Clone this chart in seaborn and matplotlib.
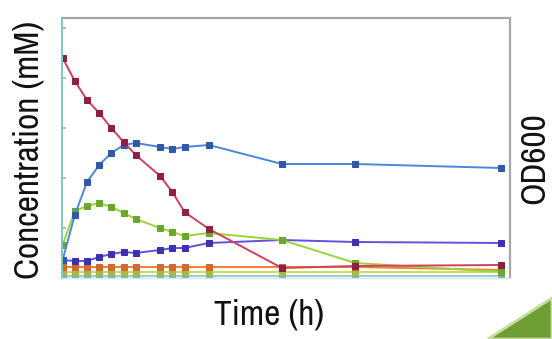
import matplotlib
matplotlib.use("Agg")
import matplotlib.pyplot as plt
from matplotlib import font_manager
from matplotlib.patches import Polygon
import numpy as np
import pandas as pd
import seaborn as sns

# Sampling times (h)
time_h = [0, 1, 2, 3, 4, 5, 6, 8, 9, 10, 12, 18, 24, 36]

# Concentrations (mM)
substrate = [22.0, 19.7, 17.8, 16.5, 15.0, 13.6, 12.3, 10.2, 8.6, 6.6, 4.9, 1.0, 1.2, 1.3]
product_a = [1.8, 6.3, 9.6, 11.3, 12.5, 13.3, 13.5, 13.1, 12.9, 13.1, 13.3, 11.4, 11.4, 11.0]
product_b = [3.3, 6.7, 7.2, 7.5, 7.1, 6.5, 5.9, 5.0, 4.6, 4.2, 4.5, 3.8, 1.5, 0.6]
product_c = [1.8, 1.7, 1.7, 2.1, 2.4, 2.6, 2.5, 2.8, 3.0, 3.0, 3.5, 3.8, 3.6, 3.5]
product_d = [1.1, 1.1, 1.1, 1.1, 1.1, 1.1, 1.1, 1.1, 1.1, 1.1, 1.1, 1.1, 1.1, 0.8]
product_e = [0.6, 0.6, 0.6, 0.6, 0.6, 0.6, 0.6, 0.6, 0.6, 0.6, 0.6, 0.6, 0.6, 0.6]
product_f = [0.2, 0.2, 0.2, 0.2, 0.2, 0.2, 0.2, 0.2, 0.2, 0.2, 0.2, 0.2, 0.2, 0.2]

series_names = ["substrate", "product_a", "product_b", "product_c",
                "product_d", "product_e", "product_f"]
series_values = [substrate, product_a, product_b, product_c,
                 product_d, product_e, product_f]

line_colors = {
    "substrate": "#d2405a",
    "product_a": "#4f86d8",
    "product_b": "#9ad43c",
    "product_c": "#6052dc",
    "product_d": "#f0803c",
    "product_e": "#cfdc50",
    "product_f": "#8fd0d8",
}
marker_colors = {
    "substrate": "#8e1f45",
    "product_a": "#2f5aa8",
    "product_b": "#6aa82a",
    "product_c": "#3c32b0",
    "product_d": "#d06a30",
    "product_e": "#a8b840",
    "product_f": "#70b0b8",
}

sns.set_theme(style="white")
available = {f.name for f in font_manager.fontManager.ttflist}
family = "Liberation Sans"
for cand in ["Liberation Sans Narrow", "Arial Narrow", "Archivo Narrow",
             "PT Sans Narrow", "Roboto Condensed", "Asap Condensed"]:
    if cand in available:
        family = cand
        break
plt.rcParams["font.family"] = [family, "DejaVu Sans"]

df = pd.DataFrame({
    "time": np.tile(time_h, len(series_names)),
    "conc": np.concatenate(series_values),
    "series": np.repeat(series_names, len(time_h)),
})

W, H = 552, 339
fig = plt.figure(figsize=(W / 100, H / 100), dpi=100)
ax = fig.add_axes([62 / W, 1 - 278 / H, 448 / W, 260 / H])

# draw bottom series first so the main curves sit on top
for name in reversed(series_names):
    sub = df[df["series"] == name]
    sns.lineplot(data=sub, x="time", y="conc", ax=ax, color=line_colors[name],
                 linewidth=1.4, marker="s", markersize=4.2,
                 markerfacecolor=marker_colors[name],
                 markeredgecolor=marker_colors[name], legend=False)

ax.set_xlim(-0.05, 36.7)
ax.set_ylim(0, 26)
ax.set_xticks([])
ax.set_yticks([5, 10, 15, 20, 25])
ax.set_yticklabels([])
ax.tick_params(axis="y", direction="in", length=3, color="#a8b8b8", left=True)
ax.set_xlabel("")
ax.set_ylabel("")

for side in ["top", "right"]:
    ax.spines[side].set_color("#a6a6a6")
    ax.spines[side].set_linewidth(1.6)
ax.spines["left"].set_color("#7fc8c4")
ax.spines["left"].set_linewidth(1.4)
ax.spines["bottom"].set_color("#d8e4e4")
ax.spines["bottom"].set_linewidth(1.0)

# axis titles, sized so their length spans the intended pixel extent
titles = [
    ("Concentration (mM)", 29, 150, 90, 258),
    ("OD600", 534, 158, 90, 92),
    ("Time (h)", 269, 315, 0, 110),
]
renderer = fig.canvas.get_renderer()
for label, cx, cy, rot, length in titles:
    t = fig.text(cx / W, 1 - cy / H, label, rotation=rot, ha="center",
                 va="center", fontsize=20, color="#111111")
    bb = t.get_window_extent(renderer)
    span = bb.height if rot == 90 else bb.width
    t.set_fontsize(20 * length / span)

# green ribbon edge in the lower right corner
shape = Polygon([[488 / W, 0], [1.0, 1 - 298 / H], [1.0, 0]],
                closed=True, transform=fig.transFigure,
                facecolor="#6e9e34", edgecolor="#c8dca0", linewidth=2.0)
fig.patches.append(shape)

fig.savefig("out.png", dpi=100)
